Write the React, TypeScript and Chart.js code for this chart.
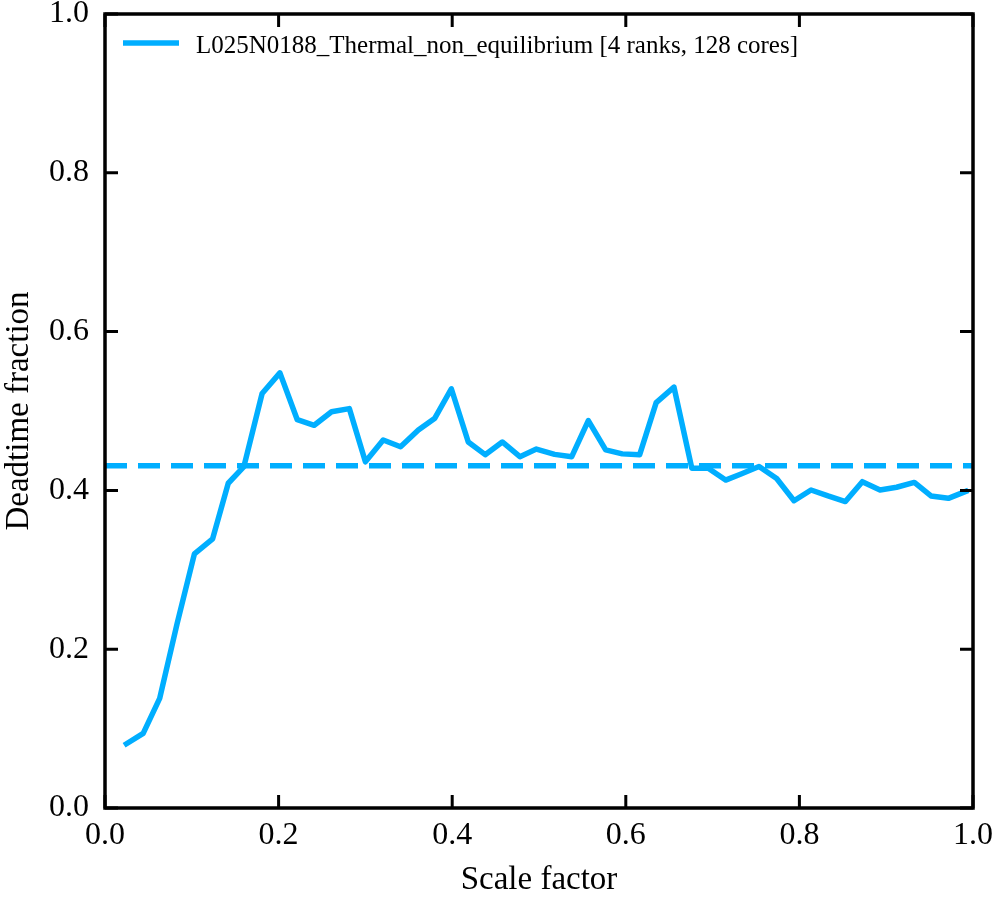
import React, { useEffect, useRef } from "react";
import { Chart, registerables } from "chart.js";

Chart.register(...registerables);

const scaleFactor = [
  0.022, 0.044, 0.063, 0.083, 0.103, 0.124, 0.142, 0.160, 0.181, 0.2015,
  0.2215, 0.241, 0.261, 0.2815, 0.300, 0.3205, 0.3405, 0.361, 0.380, 0.399,
  0.4185, 0.438, 0.4577, 0.478, 0.497, 0.518, 0.5377, 0.5568, 0.5768, 0.596,
  0.616, 0.635, 0.6555, 0.676, 0.695, 0.715, 0.7335, 0.7535, 0.7738, 0.7938,
  0.8134, 0.833, 0.853, 0.8725, 0.8929, 0.912, 0.9324, 0.9516, 0.9716, 0.9946,
];

const deadtimeFraction = [
  0.079, 0.094, 0.138, 0.232, 0.320, 0.339, 0.409, 0.430, 0.522, 0.548,
  0.489, 0.482, 0.499, 0.503, 0.436, 0.4635, 0.455, 0.476, 0.491, 0.528,
  0.461, 0.445, 0.461, 0.4425, 0.452, 0.4454, 0.4425, 0.488, 0.451, 0.446,
  0.445, 0.5105, 0.530, 0.428, 0.428, 0.413, 0.421, 0.430, 0.415, 0.387,
  0.4005, 0.393, 0.386, 0.411, 0.4005, 0.404, 0.410, 0.393, 0.390, 0.400,
];

const meanDeadtime = 0.431;
const meanRange = [0, 1];

const seriesLabel = "L025N0188_Thermal_non_equilibrium [4 ranks, 128 cores]";
const xTitle = "Scale factor";
const yTitle = "Deadtime fraction";

const BLUE = "#00AEFF";
const FONT = "'Liberation Serif', 'DejaVu Serif', serif";

const frameTicks = {
  id: "frameTicks",
  afterDraw(chart: any) {
    const { ctx, chartArea: a, scales } = chart;
    const len = 13;
    ctx.save();
    ctx.strokeStyle = "#000";
    ctx.lineWidth = 3;
    ctx.beginPath();
    scales.x.ticks.forEach((t: any) => {
      const px = scales.x.getPixelForValue(t.value);
      ctx.moveTo(px, a.bottom);
      ctx.lineTo(px, a.bottom - len);
      ctx.moveTo(px, a.top);
      ctx.lineTo(px, a.top + len);
    });
    scales.y.ticks.forEach((t: any) => {
      const py = scales.y.getPixelForValue(t.value);
      ctx.moveTo(a.left, py);
      ctx.lineTo(a.left + len, py);
      ctx.moveTo(a.right, py);
      ctx.lineTo(a.right - len, py);
    });
    ctx.stroke();
    ctx.lineWidth = 3.5;
    ctx.lineJoin = "miter";
    ctx.strokeRect(a.left, a.top, a.right - a.left, a.bottom - a.top);

    // legend (inside the plot, upper left)
    const ds = chart.data.datasets[0];
    const lx = a.left + 18;
    const ly = a.top + 29;
    ctx.strokeStyle = ds.borderColor;
    ctx.lineWidth = ds.borderWidth;
    ctx.lineCap = "butt";
    ctx.beginPath();
    ctx.moveTo(lx, ly);
    ctx.lineTo(lx + 56, ly);
    ctx.stroke();
    ctx.fillStyle = "#000";
    ctx.font = `25px ${FONT}`;
    ctx.textBaseline = "alphabetic";
    ctx.textAlign = "left";
    ctx.fillText(ds.label, lx + 73, ly + 10);
    ctx.restore();
  },
};

export default function App() {
  const ref = useRef<HTMLCanvasElement>(null);

  useEffect(() => {
    document.body.style.margin = "0";
    const canvas = ref.current!;
    const chart = new Chart(canvas, {
      type: "line",
      data: {
        datasets: [
          {
            label: seriesLabel,
            data: scaleFactor.map((x, i) => ({ x, y: deadtimeFraction[i] })),
            borderColor: BLUE,
            backgroundColor: BLUE,
            borderWidth: 5.5,
            pointRadius: 0,
            tension: 0,
            borderJoinStyle: "round",
            borderCapStyle: "butt",
          },
          {
            label: "mean",
            data: meanRange.map((x) => ({ x, y: meanDeadtime })),
            borderColor: BLUE,
            backgroundColor: BLUE,
            borderWidth: 5.5,
            borderDash: [22, 11],
            pointRadius: 0,
          },
        ],
      },
      options: {
        animation: false,
        responsive: false,
        devicePixelRatio: 1,
        layout: { padding: { top: 14, right: 23, left: 0, bottom: 0 } },
        plugins: {
          tooltip: { enabled: false },
          legend: { display: false },
        },
        scales: {
          x: {
            type: "linear",
            min: 0,
            max: 1,
            afterFit: (s: any) => {
              s.height = 92;
              s.paddingLeft = 0;
              s.paddingRight = 0;
            },
            ticks: {
              stepSize: 0.2,
              padding: 8,
              color: "#000",
              font: { family: FONT, size: 32 },
              callback: (v: any) => Number(v).toFixed(1),
              maxRotation: 0,
            },
            grid: { display: true, drawOnChartArea: false, drawTicks: false },
            border: { display: false },
            title: {
              display: true,
              text: xTitle,
              color: "#000",
              font: { family: FONT, size: 33 },
              padding: { top: 4, bottom: 0 },
            },
          },
          y: {
            type: "linear",
            min: 0,
            max: 1,
            afterFit: (s: any) => {
              s.width = 105;
              s.paddingTop = 0;
              s.paddingBottom = 0;
            },
            ticks: {
              stepSize: 0.2,
              padding: 16,
              color: "#000",
              font: { family: FONT, size: 32 },
              callback: (v: any) => Number(v).toFixed(1),
            },
            grid: { display: true, drawOnChartArea: false, drawTicks: false },
            border: { display: false },
            title: {
              display: true,
              text: yTitle,
              color: "#000",
              font: { family: FONT, size: 33 },
              padding: { top: 0, bottom: 0 },
            },
          },
        },
      },
      plugins: [frameTicks],
    });
    return () => chart.destroy();
  }, []);

  return <canvas ref={ref} width={996} height={900} style={{ display: "block" }} />;
}
